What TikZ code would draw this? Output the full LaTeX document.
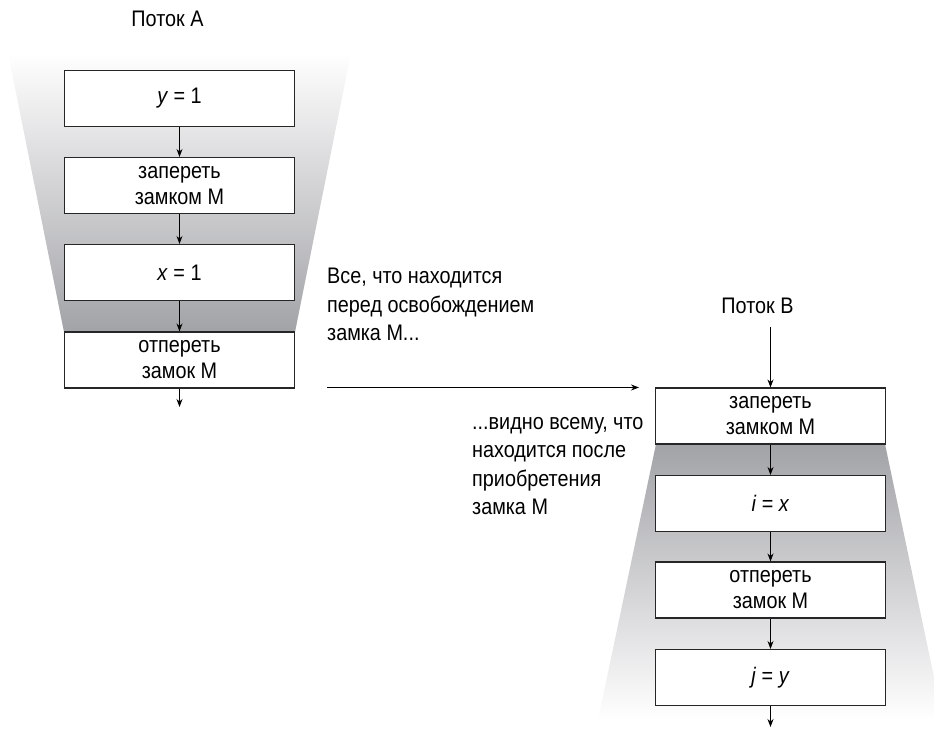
\documentclass[tikz,border=0pt]{standalone}
\usepackage{fontspec}
\setmainfont{Liberation Sans}[FakeStretch=0.88]
\usetikzlibrary{arrows.meta}
\definecolor{shadegray}{HTML}{A2A3A7}
\definecolor{midgray}{HTML}{D9DADC}
\tikzset{
	stepbox/.style={draw=black!85, line width=1.1pt, fill=white, minimum width=230pt, minimum height=56pt, inner sep=0pt, align=center, font=\fontsize{22.5}{26}\selectfont},
	flow/.style={-{Stealth[length=8pt,width=6pt]}, line width=0.9pt},
	note/.style={inner sep=0pt, align=left, font=\fontsize{22.5}{28.5}\selectfont}
}

\begin{document}
\begin{tikzpicture}[x=1pt,y=1pt]
	\useasboundingbox (0,0) rectangle (934,730);
	%\draw (0,0) rectangle (934,730);
	\shade[top color=white, middle color=midgray, bottom color=shadegray] (8,677) -- (351,677) -- (295,398) -- (64,398) -- cycle;
	\shade[top color=shadegray, middle color=midgray, bottom color=white] (656,286) -- (885,286) -- (943,10) -- (598,10) -- cycle;
	% Thread A
	\node[font=\fontsize{22.5}{26}\selectfont] (threadA) at (167.5,711) {Поток A};
	\node[stepbox] (a1) at (179.5,631.5) {\textit{y} = 1};
	\node[stepbox] (a2) at (179.5,544.5) {запереть\\замком M};
	\node[stepbox] (a3) at (179.5,457.5) {\textit{x} = 1};
	\node[stepbox] (a4) at (179.5,370) {отпереть\\замок M};
	\coordinate (aend) at (179.5,323);
	\draw[flow] (a1) -- (a2);
	\draw[flow] (a2) -- (a3);
	\draw[flow] (a3) -- (a4);
	\draw[flow] (a4) -- (aend);
	% Thread B
	\node[font=\fontsize{22.5}{26}\selectfont] (threadB) at (757.5,424) {Поток B};
	\coordinate (bstart) at (770.5,403);
	\node[stepbox] (b1) at (770.5,314) {запереть\\замком M};
	\node[stepbox] (b2) at (770.5,226.5) {\textit{i} = \textit{x}};
	\node[stepbox] (b3) at (770.5,140) {отпереть\\замок M};
	\node[stepbox] (b4) at (770.5,52.5) {\textit{j} = \textit{y}};
	\coordinate (bend) at (770.5,3);
	\draw[flow] (bstart) -- (b1);
	\draw[flow] (b1) -- (b2);
	\draw[flow] (b2) -- (b3);
	\draw[flow] (b3) -- (b4);
	\draw[flow] (b4) -- (bend);
	% release -> acquire
	\coordinate (rel) at (327,342.5);
	\coordinate (acq) at (639,342.5);
	\draw[flow] (rel) -- (acq);
	\node[note, anchor=north west] (before) at (327,462) {Все, что находится\\перед освобождением\\замка M...};
	\node[note, anchor=north west] (after) at (472,313) {...видно всему, что\\находится после\\приобретения\\замка M};
\end{tikzpicture}
\end{document}
